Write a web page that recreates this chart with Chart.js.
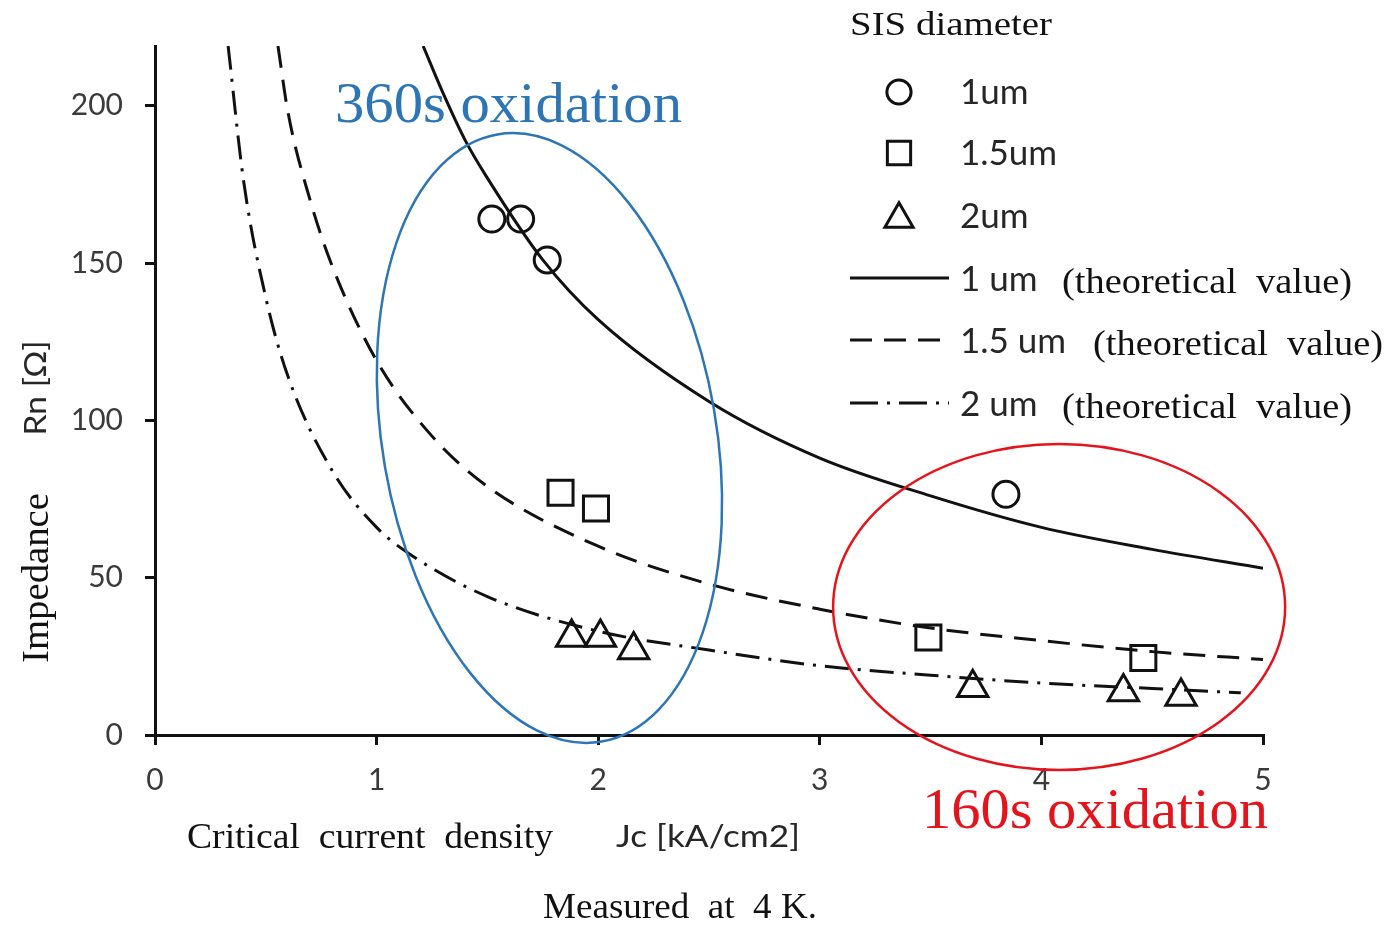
<!DOCTYPE html>
<html>
<head>
<meta charset="utf-8">
<title>Rn vs Jc</title>
<script src="https://cdn.jsdelivr.net/npm/chart.js@4.4.1/dist/chart.umd.min.js"></script>
<style>
  html, body { margin: 0; padding: 0; background: #fff; }
  canvas { display: block; }
</style>
</head>
<body>
<canvas id="rnChart" width="1389" height="925"></canvas>
<script>
// measured junctions, Jc [kA/cm2] vs Rn [ohm]
const circleJc = [1.52, 1.65, 1.77, 3.84];
const circleRn = [164, 164, 151, 76.5];
const squareJc = [1.83, 1.99, 3.49, 4.46];
const squareRn = [77, 72, 31, 24.5];
const triangleJc = [1.88, 2.01, 2.16, 3.69, 4.37, 4.63];
const triangleRn = [31, 31, 27, 15, 13.7, 12.2];

// theoretical curves
const theory1Jc = [1.21, 1.3, 1.4, 1.5, 1.75, 2, 2.5, 3, 3.5, 4, 4.5, 5];
const theory1Rn = [219, 204, 189, 177, 151, 132, 106, 88, 76, 66, 59, 53];
const theory15Jc = [0.555, 0.6, 0.7, 0.8, 1, 1.25, 1.5, 2, 2.5, 3, 3.5, 4, 4.5, 5];
const theory15Rn = [219, 198, 170, 149, 119, 95, 79, 60, 48, 40, 34, 30, 26.5, 24];
const theory2Jc = [0.33, 0.4, 0.5, 0.6, 0.8, 1, 1.16, 1.5, 2, 2.5, 3, 3.5, 4, 4.5, 4.9];
const theory2Rn = [219, 176, 139, 114, 84, 66, 57, 44, 33, 27, 22, 19, 16.5, 14.8, 13.4];

const xTicks = [0, 1, 2, 3, 4, 5];
const yTicks = [0, 50, 100, 150, 200];
const markerLabels = ["1um", "1.5um", "2um"];
const lineLabels = ["1 um", "1.5 um", "2 um"];

const SERIF = '"Liberation Serif", "Times New Roman", serif';
const SANS = 'Lato, "Liberation Sans", sans-serif';
const INK = "#111";

function pairs(xs, ys) {
    return xs.map((x, i) => ({ x: x, y: ys[i] }));
}

// oxidation groups (centre in data units, radii in px)
const rings = [
    { x: 1.78, y: 94.4, rx: 167, ry: 308, rot: -0.17, color: "#2e75b6" },
    { x: 4.08, y: 40.7, rx: 226, ry: 163, rot: 0, color: "#e5141c" }
];

function putText(ctx, str, x, y, font, color, width) {
    ctx.save();
    ctx.font = font;
    ctx.fillStyle = color;
    ctx.textBaseline = "alphabetic";
    ctx.textAlign = "left";
    ctx.translate(x, y);
    if (width) ctx.scale(width / ctx.measureText(str).width, 1);
    ctx.fillText(str, 0, 0);
    ctx.restore();
}

function putTextUp(ctx, str, cy, baseX, font, color, width) {
    ctx.save();
    ctx.font = font;
    ctx.fillStyle = color;
    ctx.textBaseline = "alphabetic";
    ctx.textAlign = "center";
    ctx.translate(baseX, cy);
    ctx.rotate(-Math.PI / 2);
    if (width) ctx.scale(width / ctx.measureText(str).width, 1);
    ctx.fillText(str, 0, 0);
    ctx.restore();
}

const extras = {
    id: "extras",
    afterDatasetsDraw(chart) {
        const ctx = chart.ctx;
        const xs = chart.scales.x, ys = chart.scales.y;
        rings.forEach(r => {
            ctx.save();
            ctx.beginPath();
            ctx.ellipse(xs.getPixelForValue(r.x), ys.getPixelForValue(r.y), r.rx, r.ry, r.rot, 0, Math.PI * 2);
            ctx.strokeStyle = r.color;
            ctx.lineWidth = 2.5;
            ctx.stroke();
            ctx.restore();
        });
    },
    afterDraw(chart) {
        const ctx = chart.ctx;
        const sets = chart.data.datasets;
        const markers = sets.filter(d => !d.showLine);
        const lines = sets.filter(d => d.showLine);

        putText(ctx, "SIS diameter", 850, 35, "34px " + SERIF, INK, 202);

        const markY = [92, 153, 219];
        markers.forEach((ds, i) => {
            ctx.save();
            ctx.strokeStyle = INK;
            ctx.fillStyle = "rgba(0,0,0,0)";
            ctx.lineWidth = 3;
            Chart.helpers.drawPoint(ctx, { pointStyle: ds.pointStyle, radius: ds.pointRadius * 0.93, borderWidth: 3, rotation: 0 }, 899, markY[i]);
            ctx.restore();
            putText(ctx, markerLabels[i], 960, [104, 165, 228][i], "35px " + SANS, "#262626");
        });

        const lineY = [278, 340, 403];
        const valueX = [1062, 1093, 1062];
        const legendDash = [[], [22, 12], [28, 9, 3, 9]];
        lines.forEach((ds, i) => {
            ctx.save();
            ctx.strokeStyle = INK;
            ctx.lineWidth = 3;
            ctx.setLineDash(legendDash[i]);
            ctx.beginPath();
            ctx.moveTo(850, lineY[i]);
            ctx.lineTo(949, lineY[i]);
            ctx.stroke();
            ctx.restore();
            putText(ctx, lineLabels[i], 960, lineY[i] + 13, "35px " + SANS, "#262626");
            putText(ctx, "(theoretical  value)", valueX[i], lineY[i] + 15, "36px " + SERIF, INK, 290);
        });

        putText(ctx, "360s oxidation", 335, 122, "57px " + SERIF, "#2e75b6", 347);
        putText(ctx, "160s oxidation", 922, 828, "57px " + SERIF, "#e5141c", 346);

        putTextUp(ctx, "Impedance", 578, 48, "38px " + SERIF, INK, 170);
        putTextUp(ctx, "Rn [Ω]", 388, 46, "31px " + SANS, "#262626", 95);

        putText(ctx, "Critical  current  density", 187, 848, "36px " + SERIF, INK, 366);
        putText(ctx, "Jc [kA/cm2]", 616, 847, "31px " + SANS, "#262626", 184);
        putText(ctx, "Measured  at  4 K.", 543, 918, "36px " + SERIF, INK, 274);
    }
};

const lineBase = {
    showLine: true,
    pointRadius: 0,
    borderColor: INK,
    borderWidth: 3,
    cubicInterpolationMode: "monotone",
    fill: false
};
const markBase = {
    showLine: false,
    borderColor: INK,
    backgroundColor: "rgba(0,0,0,0)",
    pointBorderWidth: 3
};

new Chart(document.getElementById("rnChart"), {
    type: "scatter",
    data: {
        datasets: [
            Object.assign({ label: "1um", data: pairs(circleJc, circleRn), pointStyle: "circle", pointRadius: 13 }, markBase),
            Object.assign({ label: "1.5um", data: pairs(squareJc, squareRn), pointStyle: "rect", pointRadius: 17.7 }, markBase),
            Object.assign({ label: "2um", data: pairs(triangleJc, triangleRn), pointStyle: "triangle", pointRadius: 17.5 }, markBase),
            Object.assign({ label: "1 um (theoretical value)", data: pairs(theory1Jc, theory1Rn), borderDash: [] }, lineBase),
            Object.assign({ label: "1.5 um (theoretical value)", data: pairs(theory15Jc, theory15Rn), borderDash: [22, 12] }, lineBase),
            Object.assign({ label: "2 um (theoretical value)", data: pairs(theory2Jc, theory2Rn), borderDash: [24, 9, 3, 9] }, lineBase)
        ]
    },
    options: {
        responsive: false,
        animation: false,
        layout: { padding: { left: 0, top: 46, right: 126, bottom: 0 } },
        plugins: { legend: { display: false }, tooltip: { enabled: false } },
        scales: {
            x: {
                type: "linear",
                min: xTicks[0],
                max: xTicks[xTicks.length - 1],
                afterFit: s => { s.height = 190; },
                afterBuildTicks: s => { s.ticks = xTicks.map(v => ({ value: v })); },
                border: { display: true, color: INK, width: 3 },
                grid: { drawOnChartArea: false, drawTicks: true, tickLength: 10, color: INK, lineWidth: 3 },
                ticks: { color: "#3a3a3a", font: { family: SANS, size: 30 }, padding: 17, maxRotation: 0 }
            },
            y: {
                type: "linear",
                min: 0,
                max: 219,
                afterFit: s => { s.width = 155; },
                afterBuildTicks: s => { s.ticks = yTicks.map(v => ({ value: v })); },
                border: { display: true, color: INK, width: 3 },
                grid: { drawOnChartArea: false, drawTicks: true, tickLength: 10, color: INK, lineWidth: 3 },
                ticks: { color: "#3a3a3a", font: { family: SANS, size: 30 }, padding: 22 }
            }
        }
    },
    plugins: [extras]
});
</script>
</body>
</html>
